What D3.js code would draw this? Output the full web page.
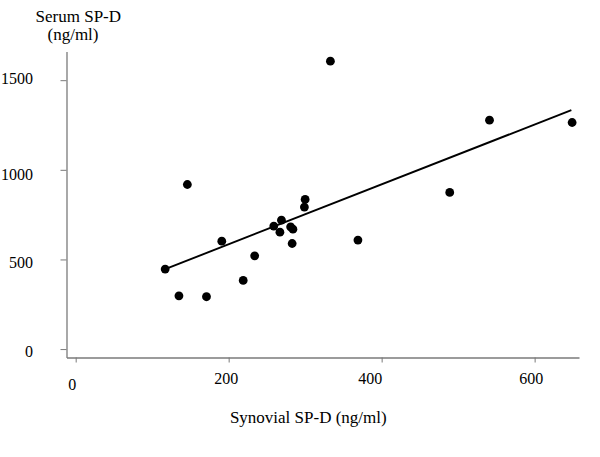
<!DOCTYPE html>
<html>
<head>
<meta charset="utf-8">
<script src="https://cdn.jsdelivr.net/npm/d3@7"></script>
<style>
  html, body { margin: 0; padding: 0; background: #fff; }
  text { font-family: "Liberation Serif", "Times New Roman", serif; fill: #000; }
</style>
</head>
<body>
<svg id="chart" width="600" height="457"></svg>
<script>
// Data
const synovial = [117, 146, 135, 171, 191, 219, 234, 259, 269, 267, 281, 284, 283, 300, 299, 333, 369, 489, 541, 649];
const serum    = [446, 918, 297, 292, 602, 383, 520, 686, 719, 652, 682, 669, 589, 835, 792, 1606, 608, 874, 1277, 1264];
// Regression line end points
const fitX = [117, 648];
const fitY = [446, 1333];
const xTicks = [0, 200, 400, 600];
const yTicks = [0, 500, 1000, 1500];
const xTitle = "Synovial SP-D (ng/ml)";
const yTitle = ["Serum SP-D", "(ng/ml)"];

const svg = d3.select("#chart");
const x = d3.scaleLinear().domain([-12, 658]).range([66.5, 579]);
const y = d3.scaleLinear().domain([-47, 1660]).range([357.5, 51.5]);

const axisColor = "#7a7a7a";

// X axis
const gx = svg.append("g").attr("transform", "translate(0,357.5)")
  .call(d3.axisBottom(x).tickValues(xTicks).tickSize(5).tickSizeOuter(0).tickFormat(d3.format("d")));
gx.select(".domain").attr("stroke", axisColor).attr("stroke-width", 1.3);
gx.selectAll(".tick line").attr("stroke", axisColor);
const xLabelShift = {0: [-4, 6], 200: [-3, 0], 400: [-12, 0], 600: [-4, 0]};
gx.selectAll(".tick text")
  .attr("font-size", 16)
  .attr("font-family", "Liberation Serif")
  .attr("y", 0)
  .attr("dy", 0)
  .attr("x", d => xLabelShift[d][0])
  .attr("transform", d => `translate(0,${26 + xLabelShift[d][1]})`);

// Y axis
const gy = svg.append("g").attr("transform", "translate(66.5,0)")
  .call(d3.axisLeft(y).tickValues(yTicks).tickSize(6).tickSizeOuter(0).tickFormat(d3.format("d")));
gy.select(".domain").attr("stroke", axisColor).attr("stroke-width", 1.3);
gy.selectAll(".tick line").attr("stroke", axisColor);
const yLabelShift = {0: 7, 500: 8, 1000: 10, 1500: 3};
gy.selectAll(".tick text")
  .attr("font-size", 16)
  .attr("font-family", "Liberation Serif")
  .attr("x", -33.5)
  .attr("dy", 0)
  .attr("y", d => yLabelShift[d]);

// Titles
svg.append("text").attr("x", 78.3).attr("y", 22).attr("text-anchor", "middle")
  .attr("font-size", 17).text(yTitle[0]);
svg.append("text").attr("x", 73).attr("y", 40).attr("text-anchor", "middle")
  .attr("font-size", 17).text(yTitle[1]);
svg.append("text").attr("x", 308.3).attr("y", 422.5).attr("text-anchor", "middle")
  .attr("font-size", 17).text(xTitle);

// Regression line
svg.append("line")
  .attr("x1", x(fitX[0])).attr("y1", y(fitY[0]))
  .attr("x2", x(fitX[1])).attr("y2", y(fitY[1]))
  .attr("stroke", "#000").attr("stroke-width", 1.9);

// Points
svg.append("g").selectAll("circle")
  .data(synovial.map((v, i) => [v, serum[i]]))
  .join("circle")
  .attr("cx", d => x(d[0]))
  .attr("cy", d => y(d[1]))
  .attr("r", 4.4)
  .attr("fill", "#000");
</script>
</body>
</html>
